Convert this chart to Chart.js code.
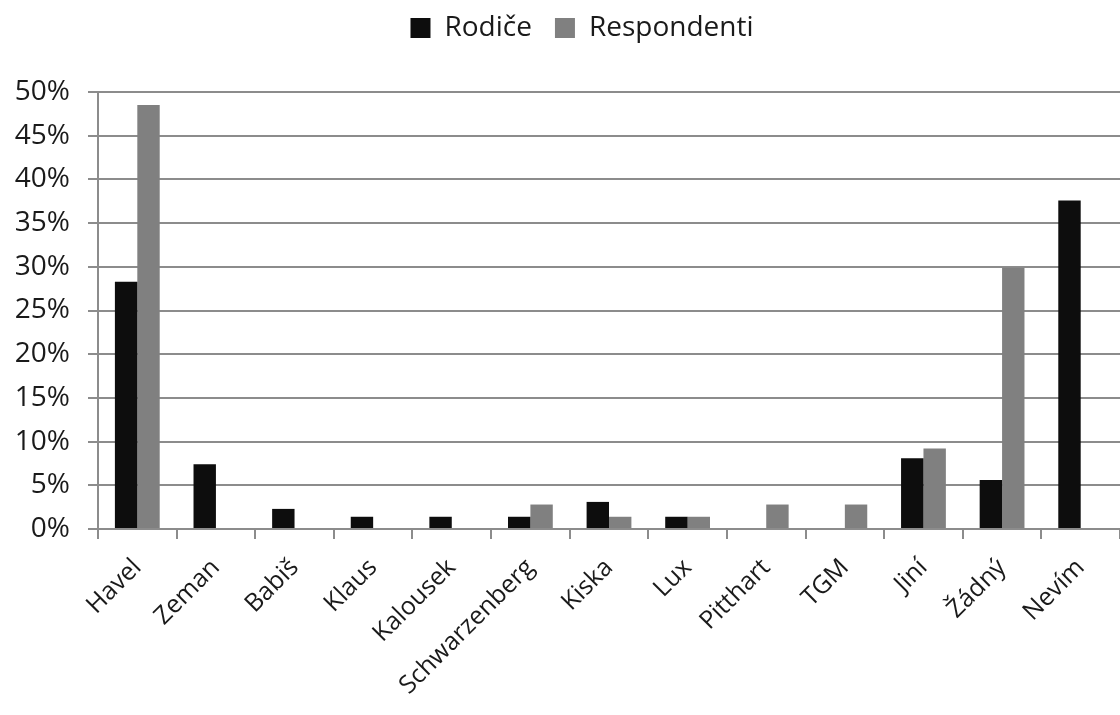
<!DOCTYPE html>
<html>
<head>
<meta charset="utf-8">
<script src="https://cdn.jsdelivr.net/npm/chart.js@4"></script>
<style>
  html, body { margin: 0; padding: 0; background: #fff; }
  #wrap { width: 1120px; height: 715px; }
</style>
</head>
<body>
<div id="wrap"><canvas id="chart" width="1120" height="715"></canvas></div>
<script>
const categories = ['Havel', 'Zeman', 'Babiš', 'Klaus', 'Kalousek', 'Schwarzenberg', 'Kiska', 'Lux', 'Pitthart', 'TGM', 'Jiní', 'Žádný', 'Nevím'];
const rodice = [28.3, 7.4, 2.3, 1.4, 1.4, 1.4, 3.1, 1.4, 0, 0, 8.1, 5.6, 37.6];
const respondenti = [48.5, 0, 0, 0, 0, 2.8, 1.4, 1.4, 2.8, 2.8, 9.2, 29.9, 0];

const FONT = "'Open Sans', sans-serif";
const GRID = '#8c8c8c';
const TEXT = '#1a1a1a';

// leave a gap between the legend and the plot, nudge legend a bit right
const legendGap = {
    id: 'legendGap',
    afterInit(chart) {
        const legend = chart.legend;
        const fit = legend.fit;
        legend.fit = function () {
            fit.call(this);
            this.height += 40;
        };
        const draw = legend.draw;
        legend.draw = function () {
            const ctx = this.ctx;
            ctx.save();
            ctx.translate(22, 0);
            draw.call(this);
            ctx.restore();
        };
    }
};

new Chart(document.getElementById('chart'), {
    type: 'bar',
    data: {
        labels: categories,
        datasets: [
            { label: 'Rodiče', data: rodice, backgroundColor: '#0d0d0d' },
            { label: 'Respondenti', data: respondenti, backgroundColor: '#808080' }
        ]
    },
    plugins: [legendGap],
    options: {
        responsive: false,
        animation: false,
        datasets: { bar: { categoryPercentage: 0.57, barPercentage: 1.0 } },
        layout: { padding: { top: -9, right: 0, left: 0, bottom: 0 } },
        plugins: {
            legend: {
                position: 'top',
                labels: {
                    color: TEXT,
                    font: { family: FONT, size: 28 },
                    boxWidth: 20,
                    boxHeight: 20,
                    padding: 23
                }
            },
            tooltip: { enabled: false }
        },
        scales: {
            x: {
                grid: { drawOnChartArea: false, drawTicks: true, tickLength: 10, color: GRID, lineWidth: 2 },
                border: { color: GRID, width: 2 },
                ticks: {
                    color: TEXT,
                    font: { family: FONT, size: 25 },
                    maxRotation: 45,
                    minRotation: 45,
                    autoSkip: false,
                    padding: 14
                },
                afterFit: scale => { scale.height = 186; }
            },
            y: {
                min: 0,
                max: 50,
                ticks: {
                    stepSize: 5,
                    color: TEXT,
                    font: { family: FONT, size: 28 },
                    padding: 18,
                    callback: v => v + '%'
                },
                grid: { color: GRID, lineWidth: 2, tickLength: 10 },
                border: { color: GRID, width: 2 },
                afterFit: scale => { scale.width = 98; }
            }
        }
    }
});
</script>
</body>
</html>
